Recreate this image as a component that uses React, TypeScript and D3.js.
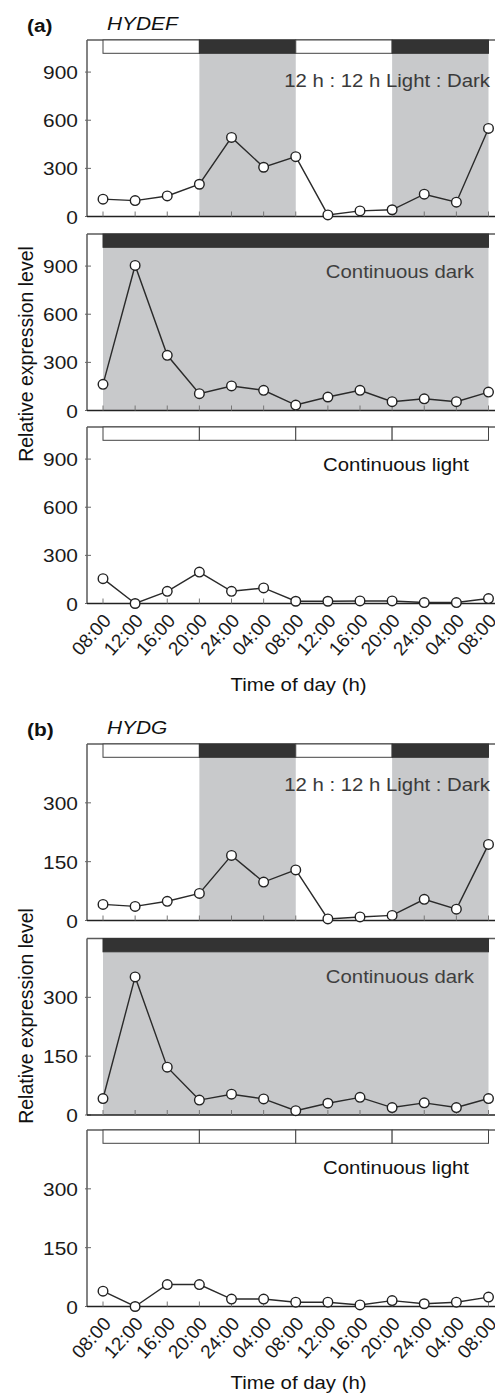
import React from "react";
import * as d3 from "d3";

const timeLabels = ["08:00","12:00","16:00","20:00","24:00","04:00","08:00","12:00","16:00","20:00","24:00","04:00","08:00"];

const hydefLD = [108, 99, 128, 201, 493, 307, 373, 10, 35, 42, 139, 89, 549];
const hydefDD = [163, 904, 344, 105, 153, 126, 34, 84, 126, 55, 73, 55, 115];
const hydefLL = [155, 0, 76, 196, 76, 97, 14, 14, 16, 16, 6, 6, 31];
const hydgLD = [41, 36, 49, 69, 166, 98, 129, 4, 9, 13, 54, 29, 194];
const hydgDD = [42, 352, 122, 38, 53, 41, 11, 30, 45, 19, 31, 19, 42];
const hydgLL = [39, 0, 56, 56, 19, 19, 11, 11, 4, 15, 7, 11, 24];

const yTicksA = [0, 300, 600, 900];
const yTicksB = [0, 150, 300];

// schedule segments in sampling-index units: [start, end, dark?]
const scheduleLD: [number, number, boolean][] = [[0, 3, false], [3, 6, true], [6, 9, false], [9, 12, true]];
const scheduleDD: [number, number, boolean][] = [[0, 12, true]];
const scheduleLL: [number, number, boolean][] = [[0, 3, false], [3, 6, false], [6, 9, false], [9, 12, false]];

const FONT = "'Liberation Sans', Arial, Helvetica, sans-serif";
const SX = 1.1;
const x = d3.scaleLinear().domain([0, 12]).range([103, 488.5]);
const LEFT = 87;
const RIGHT = 500;
const PH = 176.5;
const BAR_H = 13.3;
const GREY = "#c8c9cb";
const DARK = "#333333";

type PanelProps = {
  top: number;
  values: number[];
  ymax: number;
  ticks: number[];
  schedule: [number, number, boolean][];
  label: string;
  labelBase: number;
  labelEndX: number;
  labelColor: string;
  showTime: boolean;
};

function Panel({ top, values, ymax, ticks, schedule, label, labelBase, labelEndX, labelColor, showTime }: PanelProps) {
  const bottom = top + PH;
  const y = d3.scaleLinear().domain([0, ymax]).range([bottom, top]);
  const line = d3.line<number>().x((_, i) => x(i)).y((v) => y(v));
  return (
    <g>
      {schedule.filter((s) => s[2]).map((s, i) => (
        <rect key={"sh" + i} x={x(s[0])} y={top} width={x(s[1]) - x(s[0])} height={PH} fill={GREY} />
      ))}
      <line x1={LEFT} x2={RIGHT} y1={top} y2={top} stroke="#5a5a5a" strokeWidth={1.5} />
      <line x1={LEFT} x2={LEFT} y1={top} y2={bottom} stroke="#5a5a5a" strokeWidth={1.5} />
      {schedule.map((s, i) => (
        <rect key={"b" + i} x={x(s[0])} y={top} width={x(s[1]) - x(s[0])} height={BAR_H}
          fill={s[2] ? DARK : "#ffffff"} stroke={s[2] ? DARK : "#444"} strokeWidth={1} />
      ))}
      {ticks.map((t) => (
        <g key={"yt" + t}>
          <line x1={LEFT - 2} x2={LEFT + 4} y1={y(t)} y2={y(t)} stroke="#666" strokeWidth={1} />
          <text transform={`translate(78,${y(t) + 7}) scale(${SX},1)`} textAnchor="end" fontSize={19} fontFamily={FONT} fill="#1a1a1a">{t}</text>
        </g>
      ))}
      <line x1={LEFT} x2={RIGHT} y1={bottom} y2={bottom} stroke="#222" strokeWidth={1.6} />
      {values.map((_, i) => (
        <line key={"xt" + i} x1={x(i)} x2={x(i)} y1={bottom} y2={bottom - 5} stroke="#777" strokeWidth={1} />
      ))}
      <text transform={`translate(${labelEndX},${labelBase}) scale(${SX},1)`} textAnchor="end" fontSize={18.5} fontFamily={FONT} fill={labelColor}>{label}</text>
      <path d={line(values) || ""} fill="none" stroke="#2a2a2a" strokeWidth={1.4} />
      {values.map((v, i) => (
        <circle key={"c" + i} cx={x(i)} cy={y(v)} r={4.8} fill="#ffffff" stroke="#222" strokeWidth={1.4} />
      ))}
      {showTime && timeLabels.map((t, i) => (
        <text key={"tl" + i} transform={`translate(${x(i) + 9},${bottom + 18}) rotate(-48)`} textAnchor="end"
          fontSize={19} fontFamily={FONT} fill="#1a1a1a">{t}</text>
      ))}
    </g>
  );
}

function Block({ offset, tag, gene, ld, dd, ll, ymax, ticks, tops, timeBase, ylabelCenter }: any) {
  return (
    <g>
      <text transform={`translate(27,${offset + 32}) scale(${SX},1)`} fontSize={19} fontWeight="bold" fontFamily={FONT} fill="#111">{tag}</text>
      <text transform={`translate(107,${offset + 30}) scale(${SX},1)`} fontSize={19} fontStyle="italic" fontFamily={FONT} fill="#111">{gene}</text>
      <Panel top={tops[0]} values={ld} ymax={ymax} ticks={ticks} schedule={scheduleLD} label="12 h : 12 h Light : Dark"
        labelBase={tops[0] + 47} labelEndX={490} labelColor="#3a3a3a" showTime={false} />
      <Panel top={tops[1]} values={dd} ymax={ymax} ticks={ticks} schedule={scheduleDD} label="Continuous dark"
        labelBase={tops[1] + 44} labelEndX={474} labelColor="#3f3f3f" showTime={false} />
      <Panel top={tops[2]} values={ll} ymax={ymax} ticks={ticks} schedule={scheduleLL} label="Continuous light"
        labelBase={tops[2] + 44} labelEndX={469} labelColor="#111" showTime={true} />
      <text transform={`translate(298.5,${timeBase}) scale(${SX},1)`} textAnchor="middle" fontSize={18.5} fontFamily={FONT} fill="#111">Time of day (h)</text>
      <text transform={`translate(33,${ylabelCenter}) rotate(-90)`} textAnchor="middle" fontSize={19.5} fontFamily={FONT} fill="#111">Relative expression level</text>
    </g>
  );
}

export default function App() {
  return (
    <svg width={495} height={1395} style={{ position: "absolute", left: 0, top: 0, background: "#fff" }}>
      <rect x={0} y={0} width={495} height={1395} fill="#fff" />
      <Block offset={0} tag="(a)" gene="HYDEF" ld={hydefLD} dd={hydefDD} ll={hydefLL} ymax={1100} ticks={yTicksA}
        tops={[40, 234, 427]} timeBase={691} ylabelCenter={354} />
      <Block offset={704} tag="(b)" gene="HYDG" ld={hydgLD} dd={hydgDD} ll={hydgLL} ymax={450} ticks={yTicksB}
        tops={[744, 938.5, 1130]} timeBase={1389} ylabelCenter={1016} />
    </svg>
  );
}
